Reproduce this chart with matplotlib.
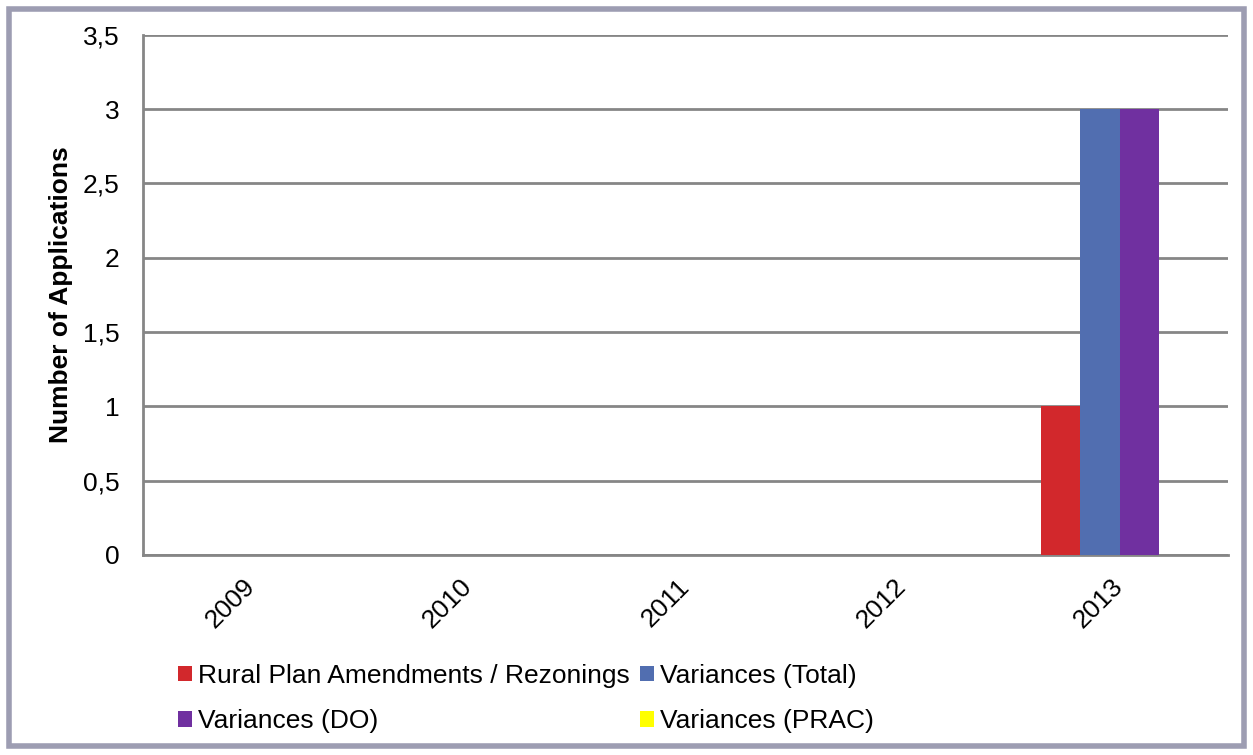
import numpy as np
import matplotlib.pyplot as plt
from matplotlib.patches import Rectangle

plt.rcParams['font.family'] = ['Liberation Sans', 'DejaVu Sans']

years = ['2009', '2010', '2011', '2012', '2013']
series = ['Rural Plan Amendments / Rezonings', 'Variances (Total)',
          'Variances (DO)', 'Variances (PRAC)']
values = [
    [0, 0, 0, 0, 1],
    [0, 0, 0, 0, 3],
    [0, 0, 0, 0, 3],
    [0, 0, 0, 0, 0],
]
colors = ['#d2282c', '#516eb0', '#7030a0', '#ffff00']

FS = 19
fig = plt.figure(figsize=(12.53, 7.55), dpi=100)
ax = fig.add_axes([0.1141, 0.265, 0.866, 0.689])

x = np.arange(len(years))
w = 0.182
bars = []
for i, (name, vals) in enumerate(zip(series, values)):
    bars.append(ax.bar(x + (i - 1.5) * w, vals, w, color=colors[i],
                       label=name, zorder=3))

ax.set_xlim(-0.5, len(years) - 0.5)
ax.set_ylim(0, 3.5)
yt = np.arange(0, 3.51, 0.5)
ax.set_yticks(yt)
ax.set_yticklabels([('%g' % v).replace('.', ',') for v in yt], fontsize=FS)
ax.set_xticks(x)
ax.set_xticklabels(years, fontsize=FS, rotation=45, ha='right', va='center',
                   rotation_mode='anchor')
ax.tick_params(length=0)
ax.tick_params(axis='y', pad=17)
ax.tick_params(axis='x', pad=20)

ax.grid(axis='y', color='#868686', linewidth=2, zorder=0)
for s in ['top', 'right']:
    ax.spines[s].set_visible(False)
for s in ['left', 'bottom']:
    ax.spines[s].set_color('#868686')
    ax.spines[s].set_linewidth(2)
ax.set_ylabel('Number of Applications', fontsize=FS, fontweight='bold',
              labelpad=7)

# row-major order: matplotlib fills legend columns first
order = [0, 2, 1, 3]
ax.legend([bars[i] for i in order], [series[i] for i in order],
          loc='upper left', bbox_to_anchor=(178 / 1253, 1 - 664 / 755),
          bbox_transform=fig.transFigure, ncol=2, frameon=False,
          fontsize=FS, handlelength=0.53, handleheight=0.53, borderpad=0,
          borderaxespad=0, handletextpad=0.23, columnspacing=0.38,
          labelspacing=0.8)

# outer chart border
fig.patches.append(Rectangle((9 / 1253, 9 / 755), 1 - 18 / 1253, 1 - 18 / 755,
                             transform=fig.transFigure, fill=False,
                             edgecolor='#9d9db2', linewidth=4))

fig.savefig('out.png', dpi=100)
